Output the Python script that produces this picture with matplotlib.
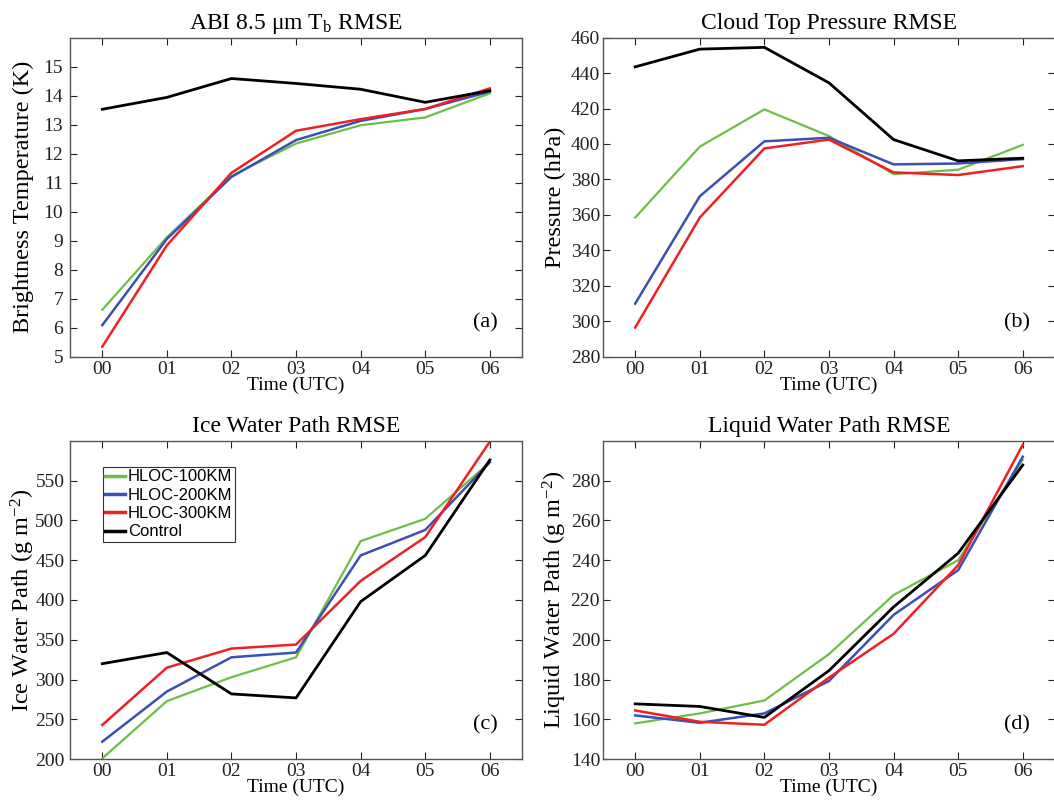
import matplotlib
matplotlib.use("Agg")
import matplotlib.pyplot as plt

# time axis
hours = [0, 1, 2, 3, 4, 5, 6]
hour_labels = ["00", "01", "02", "03", "04", "05", "06"]

# (a) ABI 8.5 um brightness temperature RMSE (K)
tb_100 = [6.62, 9.12, 11.23, 12.35, 12.98, 13.25, 14.08]
tb_200 = [6.09, 9.06, 11.20, 12.47, 13.13, 13.54, 14.14]
tb_300 = [5.35, 8.84, 11.34, 12.79, 13.19, 13.54, 14.25]
tb_ctl = [13.53, 13.94, 14.59, 14.42, 14.22, 13.77, 14.17]

# (b) cloud top pressure RMSE (hPa)
ctp_100 = [358.5, 398.5, 419.5, 404.5, 383.0, 385.5, 399.5]
ctp_200 = [310.0, 370.5, 401.5, 403.5, 388.5, 389.0, 391.5]
ctp_300 = [296.5, 358.5, 397.5, 402.5, 384.0, 382.5, 387.5]
ctp_ctl = [443.5, 453.5, 454.5, 434.5, 402.5, 390.5, 392.0]

# (c) ice water path RMSE (g m-2)
iwp_100 = [201, 273, 303, 328, 474, 502, 573]
iwp_200 = [222, 285, 328, 334, 456, 488, 573]
iwp_300 = [243, 315, 339, 344, 424, 479, 599]
iwp_ctl = [320, 334, 282, 277, 398, 456, 576]

# (d) liquid water path RMSE (g m-2)
lwp_100 = [158.0, 163.0, 169.5, 192.8, 222.5, 240.0, 290.5]
lwp_200 = [162.0, 158.3, 163.0, 179.3, 212.5, 235.0, 292.0]
lwp_300 = [164.5, 158.8, 157.3, 181.0, 203.0, 237.5, 298.0]
lwp_ctl = [167.8, 166.5, 161.0, 184.5, 216.5, 243.5, 287.8]

names = ["HLOC-100KM", "HLOC-200KM", "HLOC-300KM", "Control"]
colors = ["#6cbf45", "#3c4fb4", "#ee2024", "#000000"]
widths = [1.6, 1.8, 1.8, 2.0]

serif = ["Liberation Serif", "DejaVu Serif"]
plt.rcParams["font.family"] = serif
plt.rcParams["mathtext.fontset"] = "custom"
plt.rcParams["mathtext.rm"] = "Liberation Serif"
plt.rcParams["mathtext.it"] = "Liberation Serif:italic"

fig = plt.figure(figsize=(10.54, 8.0), dpi=100)

panels = [
    # position, series, title, ylabel, ylim, yticks, tag, y tick pad, ylabel x
    ([0.0664, 0.554, 0.429, 0.399], [tb_100, tb_200, tb_300, tb_ctl],
     r"ABI 8.5 $\mathrm{\mu}$m T$_\mathrm{b}$ RMSE", "Brightness Temperature (K)",
     (5, 16), list(range(5, 16)), "(a)", 5, -0.080),
    ([0.572, 0.554, 0.429, 0.399], [ctp_100, ctp_200, ctp_300, ctp_ctl],
     "Cloud Top Pressure RMSE", "Pressure (hPa)",
     (280, 460), list(range(280, 461, 20)), "(b)", 2, -0.082),
    ([0.0664, 0.051, 0.429, 0.398], [iwp_100, iwp_200, iwp_300, iwp_ctl],
     "Ice Water Path RMSE", r"Ice Water Path (g m$^\mathrm{-2}$)",
     (200, 600), list(range(200, 551, 50)), "(c)", 4, -0.074),
    ([0.572, 0.051, 0.429, 0.398], [lwp_100, lwp_200, lwp_300, lwp_ctl],
     "Liquid Water Path RMSE", r"Liquid Water Path (g m$^\mathrm{-2}$)",
     (140, 300), list(range(140, 281, 20)), "(d)", 2, -0.076),
]

for pos, series, title, ylabel, ylim, yticks, tag, ypad, ylx in panels:
    ax = fig.add_axes(pos)
    for vals, name, c, lw in zip(series, names, colors, widths):
        ax.plot(hours, vals, color=c, lw=lw, label=name)
    ax.set_xlim(-0.5, 6.5)
    ax.set_ylim(*ylim)
    ax.set_xticks(hours)
    ax.set_xticklabels(hour_labels)
    ax.set_yticks(yticks)
    ax.tick_params(direction="in", length=5, width=0.8, top=True, right=True,
                   labelsize=14, colors="#222222")
    ax.tick_params(axis="x", pad=3)
    ax.tick_params(axis="y", pad=ypad)
    for s in ax.spines.values():
        s.set_color("#555555")
        s.set_linewidth(1.0)
    ax.set_title(title, fontsize=17, pad=6)
    ax.set_ylabel(ylabel, fontsize=17.5)
    ax.yaxis.set_label_coords(ylx, 0.5)
    ax.set_xlabel("Time (UTC)", fontsize=14, labelpad=-1)
    ax.text(0.945, 0.107, tag, transform=ax.transAxes, fontsize=16,
            ha="right", va="center")
    if tag == "(c)":
        leg = ax.legend(loc="upper left", bbox_to_anchor=(0.073, 0.918),
                        prop={"family": "Liberation Sans", "size": 12},
                        fancybox=False, edgecolor="#333333", framealpha=1,
                        handlelength=1.2, handletextpad=0.15, labelspacing=0.2,
                        borderpad=0.15, borderaxespad=0)
        leg.get_frame().set_linewidth(0.8)
        for h in leg.get_lines():
            h.set_linewidth(2.5)

fig.savefig("out.png", dpi=100)
